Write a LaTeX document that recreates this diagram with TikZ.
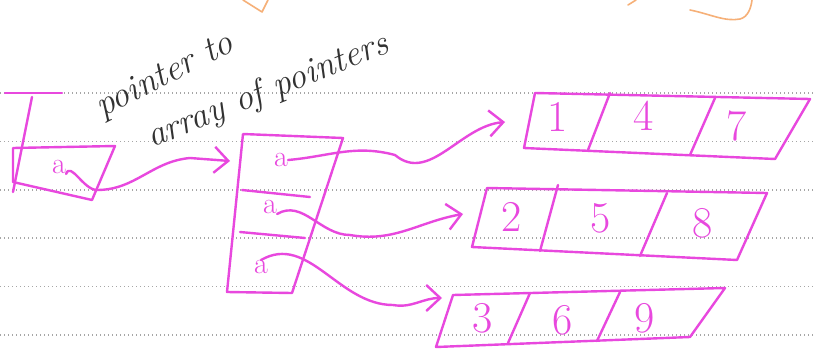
\documentclass[tikz,border=0pt]{standalone}
\usetikzlibrary{arrows.meta}
\definecolor{mag}{RGB}{232,72,222}
\definecolor{ora}{RGB}{246,176,120}
\definecolor{inkc}{RGB}{50,50,50}
\begin{document}
\begin{tikzpicture}[x=1pt,y=-1pt,
  pen/.style={mag,line width=2.4pt,line join=round,line cap=round},
  rule/.style={gray!70,line width=1.3pt,dash pattern=on 1.3pt off 2.7pt},
  digit/.style={mag,font=\fontsize{44}{44}\selectfont,inner sep=0pt},
  ptr/.style={mag,font=\fontsize{30}{30}\selectfont,inner sep=0pt},
  conn/.style={pen,-{Straight Barb[length=14pt,width=26pt]}},
  hand/.style={inkc,font=\fontsize{36}{36}\selectfont\itshape,inner sep=0pt,anchor=base west},
  orapen/.style={ora,line width=1.6pt,line cap=round,line join=round},
]
\useasboundingbox (0,0) rectangle (813,359);
\fill[white] (0,0) rectangle (813,359);
% ruled paper
\foreach \y in {93,141.5,190,238,286.5,335} \draw[rule] (0,\y) -- (813,\y);
% orange fragments at the top edge
\draw[orapen] (243,0) -- (262,12) -- (268,0);
\draw[orapen] (628,5) -- (636,0);
\draw[orapen] (690,10) .. controls (710,14) and (725,22) .. (740,19) .. controls (748,17) and (751,8) .. (752,0);
% handwritten label
\node[hand,rotate=27] (lbl1) at (102,118) {pointer to};
\node[hand,rotate=22] (lbl2) at (152,148) {array of pointers};
% I and pointer box
\draw[pen] (5,93) -- (62,93);
\draw[pen] (32,97) -- (13,192);
\draw[pen] (13,148) -- (115,146) -- (92,200) -- (13,182) -- cycle;
\node[ptr] (a0) at (59,167) {a};
% array of pointers
\draw[pen] (243,134) -- (343,138) -- (292,293) -- (227,292) -- cycle;
\draw[pen] (242,190) -- (310,197);
\draw[pen] (240,232) -- (305,238);
\node[ptr] (a1) at (281,160) {a};
\node[ptr] (a2) at (270,207) {a};
\node[ptr] (a3) at (261,267) {a};
% row arrays
\draw[pen] (535,93) -- (810,99) -- (775,159) -- (524,148) -- cycle;
\draw[pen] (610,93) -- (588,150);
\draw[pen] (715,98) -- (690,155);
\node[digit] (n1) at (558,117) {1};
\node[digit] (n4) at (644,116) {4};
\node[digit] (n7) at (737,126) {7};
\draw[pen] (487,188) -- (767,193) -- (737,260) -- (472,247) -- cycle;
\draw[pen] (558,185) -- (540,251);
\draw[pen] (667,193) -- (640,256);
\node[digit] (n2) at (512,217) {2};
\node[digit] (n5) at (601,218) {5};
\node[digit] (n8) at (703,223) {8};
\draw[pen] (453,295) -- (725,288) -- (690,337) -- (436,347) -- cycle;
\draw[pen] (530,293) -- (508,343);
\draw[pen] (620,292) -- (597,341);
\node[digit] (n3) at (483,318) {3};
\node[digit] (n6) at (563,320) {6};
\node[digit] (n9) at (645,318) {9};
% connector targets
\coordinate (m0) at (230,161);
\coordinate (r1) at (505,122);
\coordinate (r2) at (463,214);
\coordinate (r3) at (442,298);
% connectors
\draw[conn] (a0.south east) to[out=70,in=180] (97,190) to[out=0,in=185] (190,158) -- (m0);
\draw[conn] (a1.east) to[out=5,in=165] (395,155) to[out=-40,in=185] (r1);
\draw[conn] (a2.south east) to[out=30,in=180] (350,235) to[out=-10,in=190] (r2);
\draw[conn] (a3.north) to[out=30,in=180] (393,305) to[out=-10,in=180] (r3);
\end{tikzpicture}
\end{document}
